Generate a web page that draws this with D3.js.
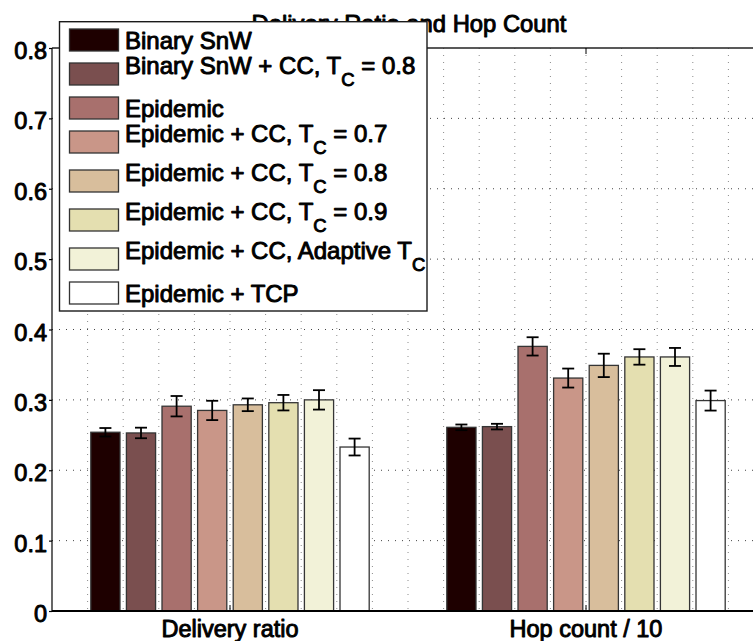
<!DOCTYPE html>
<html>
<head>
<meta charset="utf-8">
<script src="https://cdn.jsdelivr.net/npm/d3@7"></script>
<style>
  html, body { margin: 0; padding: 0; background: #fff; }
  svg { display: block; }
  text { font-family: "Liberation Sans", Arial, Helvetica, sans-serif; fill: #000; }
  .heavy { stroke: #000; stroke-width: 0.95px; paint-order: stroke; stroke-linejoin: round; }
</style>
</head>
<body>
<svg id="chart" width="753" height="641"></svg>
<script>
// Metric groups along the x axis
const categories = ["Delivery ratio", "Hop count / 10"];

// Protocol variants (legend order); "_C" marks a subscript C
const seriesNames = [
  "Binary SnW",
  "Binary SnW + CC, T_C = 0.8",
  "Epidemic",
  "Epidemic + CC, T_C = 0.7",
  "Epidemic + CC, T_C = 0.8",
  "Epidemic + CC, T_C = 0.9",
  "Epidemic + CC, Adaptive T_C",
  "Epidemic + TCP"
];

const seriesColors = ["#1e0000", "#7a4f4f", "#a8706d", "#c99688", "#d8be9c", "#e4dfb0", "#f2f2d8", "#ffffff"];

// Mean values per series: [delivery ratio, hop count / 10]
const meanValues = [
  [0.254, 0.261],
  [0.253, 0.262],
  [0.291, 0.376],
  [0.285, 0.331],
  [0.293, 0.349],
  [0.296, 0.361],
  [0.300, 0.361],
  [0.233, 0.299]
];

// Half-width of the error bars per series
const errorValues = [
  [0.006, 0.004],
  [0.0075, 0.004],
  [0.0145, 0.013],
  [0.0137, 0.0135],
  [0.009, 0.0166],
  [0.011, 0.011],
  [0.0138, 0.0128],
  [0.012, 0.0142]
];

const yTicks = [0, 0.1, 0.2, 0.3, 0.4, 0.5, 0.6, 0.7, 0.8];
const titleText = "Delivery Ratio and Hop Count";

const svg = d3.select("#chart");
svg.append("rect").attr("width", 753).attr("height", 641).attr("fill", "#fff");

// Axes box: x runs over group positions 1..n with half a unit of padding
const x = d3.scaleLinear().domain([0.5, categories.length + 0.5]).range([52, 764]);
const y = d3.scaleLinear().domain([0, 0.8]).range([611, 48]);
const barStep = 0.1, barWidth = 0.082;

// Dotted grid: vertical every tenth of a group, horizontal at each y tick
const vGrid = d3.range(6, (categories.length + 0.5) * 10).map(d => d / 10);
svg.append("g").selectAll("line").data(vGrid).join("line")
  .attr("x1", d => x(d)).attr("x2", d => x(d))
  .attr("y1", y(0.8)).attr("y2", y(0))
  .attr("stroke", "#8a8a8a").attr("stroke-width", 1)
  .attr("stroke-dasharray", "1,6");
svg.append("g").selectAll("line").data(yTicks.filter(t => t > 0 && t < 0.8)).join("line")
  .attr("x1", x(0.5)).attr("x2", x(categories.length + 0.5))
  .attr("y1", d => y(d)).attr("y2", d => y(d))
  .attr("stroke", "#444").attr("stroke-width", 1)
  .attr("stroke-dasharray", "1,6");

// Bars with error bars
const barData = [];
seriesNames.forEach((name, s) => {
  categories.forEach((c, g) => {
    barData.push({
      s, g,
      cx: (g + 1) + (s - (seriesNames.length - 1) / 2) * barStep,
      v: meanValues[s][g],
      e: errorValues[s][g]
    });
  });
});

const bars = svg.append("g");
bars.selectAll("rect").data(barData).join("rect")
  .attr("x", d => x(d.cx - barWidth / 2))
  .attr("width", d => x(d.cx + barWidth / 2) - x(d.cx - barWidth / 2))
  .attr("y", d => y(d.v))
  .attr("height", d => y(0) - y(d.v))
  .attr("fill", d => seriesColors[d.s])
  .attr("stroke", "#353535").attr("stroke-width", 1.3);

const capHalf = 6;
const err = svg.append("g").attr("stroke", "#000").attr("stroke-width", 1.8);
err.selectAll("line.stem").data(barData).join("line").attr("class", "stem")
  .attr("x1", d => x(d.cx)).attr("x2", d => x(d.cx))
  .attr("y1", d => y(d.v - d.e)).attr("y2", d => y(d.v + d.e));
err.selectAll("line.top").data(barData).join("line").attr("class", "top")
  .attr("x1", d => x(d.cx) - capHalf).attr("x2", d => x(d.cx) + capHalf)
  .attr("y1", d => y(d.v + d.e)).attr("y2", d => y(d.v + d.e));
err.selectAll("line.bot").data(barData).join("line").attr("class", "bot")
  .attr("x1", d => x(d.cx) - capHalf).attr("x2", d => x(d.cx) + capHalf)
  .attr("y1", d => y(d.v - d.e)).attr("y2", d => y(d.v - d.e));

// Axis frame
svg.append("line").attr("x1", x(0.5)).attr("x2", x(categories.length + 0.5))
  .attr("y1", y(0.8)).attr("y2", y(0.8)).attr("stroke", "#222").attr("stroke-width", 1.5);
svg.append("line").attr("x1", x(0.5)).attr("x2", x(categories.length + 0.5))
  .attr("y1", y(0)).attr("y2", y(0)).attr("stroke", "#000").attr("stroke-width", 2.2);
svg.append("line").attr("x1", x(0.5)).attr("x2", x(0.5))
  .attr("y1", y(0.8)).attr("y2", y(0)).attr("stroke", "#000").attr("stroke-width", 1.2);

// Left axis with tick labels
const yAxis = d3.axisLeft(y).tickValues(yTicks).tickSize(3).tickPadding(2)
  .tickFormat(d => d === 0 ? "0" : d3.format(".1f")(d));
const yAxisG = svg.append("g").attr("transform", `translate(${x(0.5)},0)`).call(yAxis);
yAxisG.select(".domain").remove();
yAxisG.selectAll(".tick line").attr("stroke", "#000").attr("stroke-width", 1.2);
yAxisG.selectAll(".tick text")
  .attr("class", "heavy")
  .attr("font-size", 23.5).attr("dy", null).attr("y", 10.5)
  .attr("x", -5)
  .style("font-family", "'Liberation Sans', Arial, sans-serif");

// Group ticks (inside, top and bottom) and group labels
const xAxisG = svg.append("g");
categories.forEach((c, g) => {
  const px = x(g + 1);
  xAxisG.append("line").attr("x1", px).attr("x2", px).attr("y1", y(0)).attr("y2", y(0) - 6)
    .attr("stroke", "#000").attr("stroke-width", 1);
  xAxisG.append("line").attr("x1", px).attr("x2", px).attr("y1", y(0.8)).attr("y2", y(0.8) + 6)
    .attr("stroke", "#000").attr("stroke-width", 1);
  xAxisG.append("text").attr("class", "heavy")
    .attr("x", px).attr("y", 637).attr("text-anchor", "middle")
    .attr("font-size", 23.5).text(c);
});

// Title
svg.append("text").attr("class", "heavy")
  .attr("x", 409).attr("y", 31.7).attr("text-anchor", "middle")
  .attr("font-size", 23.8).text(titleText);

// Legend (drawn over the plot area and title)
const legend = svg.append("g");
legend.append("rect").attr("x", 59.5).attr("y", 21.7).attr("width", 367.5).attr("height", 289.3)
  .attr("fill", "#fff").attr("stroke", "#1a1a1a").attr("stroke-width", 1.4);

const hasSub = n => n.includes("_C");
let cy = 21.7 + 3.8;
seriesNames.forEach((name, s) => {
  const half = hasSub(name) ? 19.5 : 14.5;
  cy += half;
  legend.append("rect").attr("x", 69.5).attr("y", cy - 11).attr("width", 49).attr("height", 22)
    .attr("fill", seriesColors[s]).attr("stroke", "#333").attr("stroke-width", 1.3);
  const t = legend.append("text").attr("class", "heavy")
    .attr("x", 125).attr("y", cy + (hasSub(name) ? 0 : 9.3)).attr("font-size", 24);
  if (hasSub(name)) {
    const [pre, post] = name.split("_C");
    t.append("tspan").text(pre);
    t.append("tspan").attr("font-size", 18.5).attr("dy", 11.7).text("C");
    if (post) t.append("tspan").attr("dy", -11.7).text(post);
  } else {
    t.text(name);
  }
  cy += half;
});
</script>
</body>
</html>
